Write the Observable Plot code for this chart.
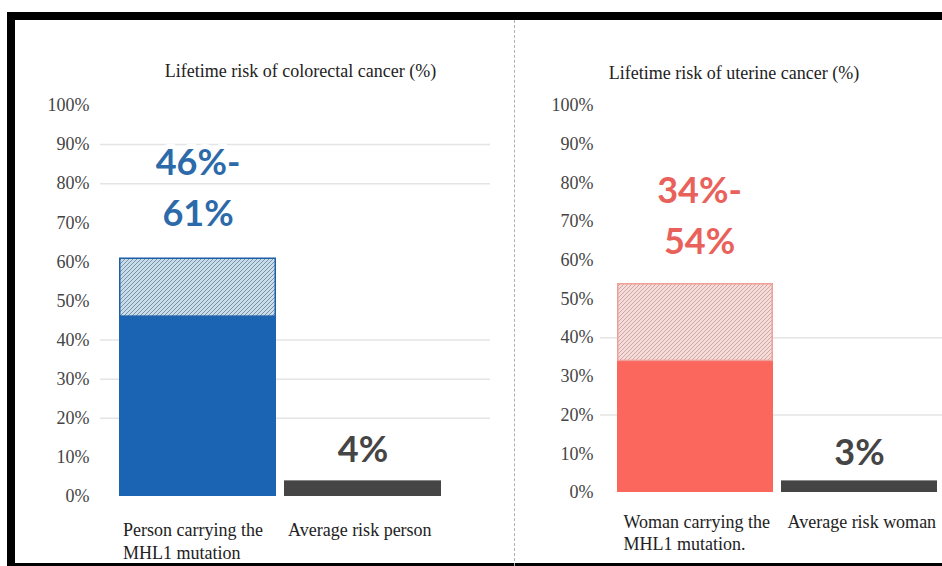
<!DOCTYPE html>
<html><head><meta charset="utf-8">
<script src="https://cdn.jsdelivr.net/npm/d3@7"></script>
<script src="https://cdn.jsdelivr.net/npm/@observablehq/plot@0.6"></script>
<style>
html,body{margin:0;padding:0;background:#fff;}
#wrap{position:relative;width:942px;height:566px;overflow:hidden;background:#fff;}
#wrap svg{position:absolute;top:0;}
.blk{position:absolute;background:#000;}
.sep{position:absolute;left:514px;top:20px;height:546px;border-left:1.5px dashed #b0b0b0;}
</style></head><body>
<div id="wrap"></div>
<script>
// ---- data ----
const yTicks = [0, 10, 20, 30, 40, 50, 60, 70, 80, 90, 100];

const colorectalTitle = "Lifetime risk of colorectal cancer (%)";
const colorectalCategories = ["Person carrying the\nMHL1 mutation", "Average risk person"];
const colorectalLow = [46, 4];
const colorectalHigh = [61, 4];
const colorectalLabels = ["46%-\n61%", "4%"];
const colorectalGrid = [20, 30, 40, 80, 90];

const uterineTitle = "Lifetime risk of uterine cancer (%)";
const uterineCategories = ["Woman carrying the\nMHL1 mutation.", "Average risk woman"];
const uterineLow = [34, 3];
const uterineHigh = [54, 3];
const uterineLabels = ["34%-\n54%", "3%"];
const uterineGrid = [20, 40];

const serif = "'Liberation Serif', 'DejaVu Serif', serif";
const sans = "Lato, 'Open Sans', sans-serif";

function hatchDefs(id, bg, line) {
  return () => {
    const defs = d3.create("svg:defs");
    const p = defs.append("pattern").attr("id", id)
      .attr("patternUnits", "userSpaceOnUse").attr("width", 4).attr("height", 4);
    p.append("rect").attr("width", 4).attr("height", 4).attr("fill", bg);
    p.append("path").attr("d", "M-1,1 L1,-1 M0,4 L4,0 M3,5 L5,3")
      .attr("stroke", line).attr("stroke-width", 0.9);
    return defs.node();
  };
}

function panel(o) {
  const rows = o.cats.map((c, i) => ({cat: c, low: o.low[i], high: o.high[i], label: o.labels[i], i}));
  const carrier = rows.filter(d => d.i === 0);
  const average = rows.filter(d => d.i === 1);
  return Plot.plot({
    width: o.width, height: 566,
    marginLeft: o.ml, marginRight: o.mr, marginTop: o.mt, marginBottom: o.mb,
    style: {fontFamily: serif, fontSize: "18px", color: "#444", background: "transparent", overflow: "visible"},
    x: {domain: o.cats, paddingInner: 0.05, paddingOuter: 0, axis: null},
    y: {domain: [0, 100], ticks: yTicks, tickFormat: d => d + "%", tickSize: 0, tickPadding: o.tp, label: null},
    color: {type: "identity"},
    marks: [
      hatchDefs(o.hatchId, o.hatchBg, o.hatchLine),
      Plot.ruleY(o.grid, {stroke: "#e4e4e4", strokeWidth: 1.5, insetLeft: o.gridL, insetRight: o.gridR}),
      Plot.barY(rows, {x: "cat", y1: 0, y2: "low", fill: d => d.i === 0 ? o.main : "#454545"}),
      Plot.barY(carrier, {x: "cat", y1: "low", y2: "high", fill: `url(#${o.hatchId})`, stroke: o.hatchBorder, strokeWidth: 1.5, insetLeft: 0.75, insetRight: 0.75, insetTop: 0.75}),
      Plot.text(carrier, {x: "cat", y: "high", text: "label", fill: o.labelColor, fontFamily: sans, fontWeight: "bold", fontSize: 36, lineHeight: 1.42, lineAnchor: "middle", dy: o.bigDy, dx: o.bigDx, stroke: "white", strokeWidth: 10}),
      Plot.text(average, {x: "cat", y: "high", text: "label", fill: "#454545", fontFamily: sans, fontWeight: "bold", fontSize: 36, lineAnchor: "middle", dy: o.smallDy}),
      Plot.text(rows, {x: "cat", text: "cat", frameAnchor: "bottom", textAnchor: "start", lineAnchor: "top", dx: o.catDx, dy: o.catDy, fontSize: 18, lineHeight: o.catLH, fill: "#222"}),
      Plot.text([o.title], {frameAnchor: "top", text: d => d, dx: o.titleDx, dy: o.titleDy, lineAnchor: "middle", fontSize: 18, fill: "#222"})
    ]
  });
}

const wrap = document.getElementById("wrap");

const left = panel({
  cats: colorectalCategories, low: colorectalLow, high: colorectalHigh, labels: colorectalLabels, grid: colorectalGrid,
  width: 500, ml: 119, mr: 59, mt: 105, mb: 70, tp: 30, gridL: -19, gridR: -49,
  main: "#1b63b3", hatchId: "hatchBlue", hatchBg: "#c8dcea", hatchLine: "#6d8ba3", hatchBorder: "#1d5ea8",
  labelColor: "#2c6aaa", bigDy: -74, bigDx: 0, smallDy: -30, catDx: -75, catDy: 23, catLH: 1.28,
  title: colorectalTitle, titleDx: 20, titleDy: -34
});
left.style.left = "0px";
wrap.appendChild(left);

const right = panel({
  cats: uterineCategories, low: uterineLow, high: uterineHigh, labels: uterineLabels, grid: uterineGrid,
  width: 442, ml: 116, mr: 5, mt: 105, mb: 74, tp: 23, gridL: -16, gridR: -5,
  main: "#fb665d", hatchId: "hatchRed", hatchBg: "#f6dcd8", hatchLine: "#caa3a0", hatchBorder: "#ef9f98",
  labelColor: "#e9615b", bigDy: -71, bigDx: 4, smallDy: -27, catDx: -72, catDy: 20, catLH: 1.22,
  title: uterineTitle, titleDx: -43, titleDy: -32
});
right.style.left = "500px";
wrap.appendChild(right);

// frame & separator
for (const [l, t, w, h] of [[7, 12, 935, 8], [7, 12, 8, 554], [7, 563, 935, 3]]) {
  const d = document.createElement("div");
  d.className = "blk";
  Object.assign(d.style, {left: l + "px", top: t + "px", width: w + "px", height: h + "px"});
  wrap.appendChild(d);
}
const sep = document.createElement("div");
sep.className = "sep";
wrap.appendChild(sep);
</script>
</body></html>
